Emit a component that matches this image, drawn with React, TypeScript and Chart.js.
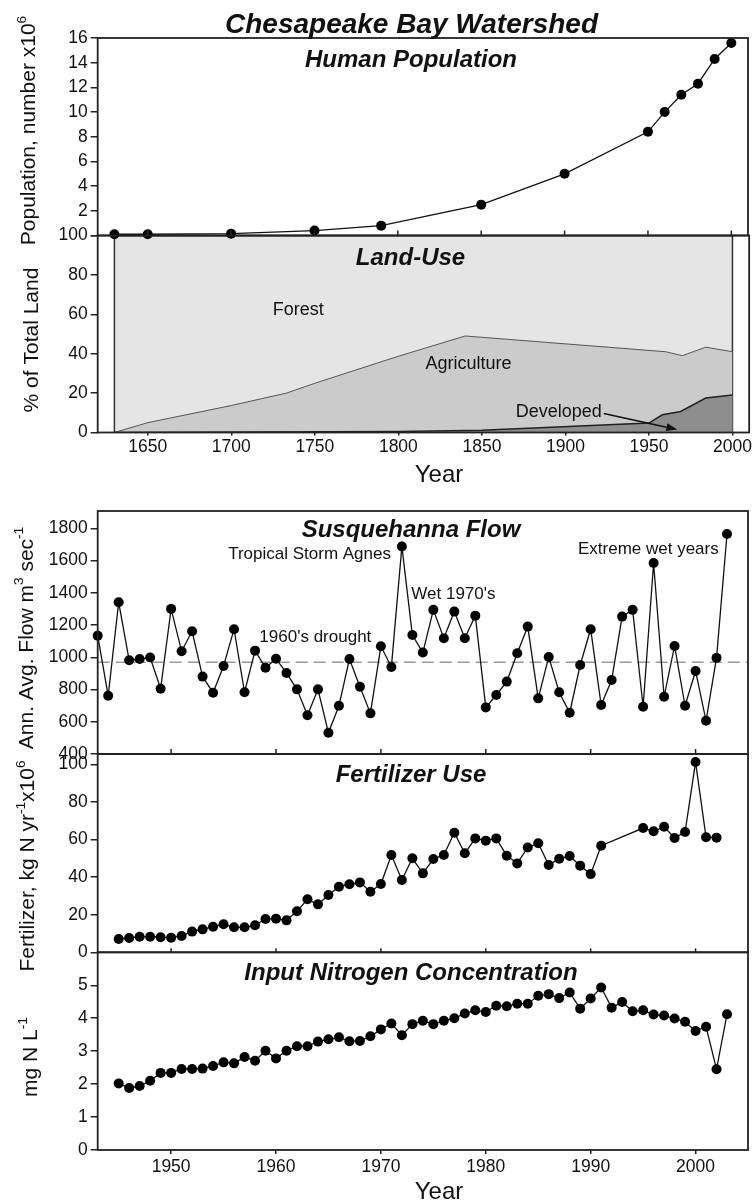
import React, { useEffect, useRef } from 'react';
import { Chart, registerables } from 'chart.js';

Chart.register(...registerables);

const FONT = '"Liberation Sans", Arial, Helvetica, sans-serif';
const W = 753;
const H = 1204;

// ---------- DATA ----------
const popYears = [1630, 1650, 1700, 1750, 1790, 1850, 1900, 1950, 1960, 1970, 1980, 1990, 2000];
const popValues = [0.1, 0.1, 0.15, 0.4, 0.8, 2.5, 5.0, 8.4, 10.0, 11.4, 12.3, 14.3, 15.6];

const forestYears = [1630, 1630, 2000, 2000];
const forestValues = [0, 100, 100, 0];
const agriYears = [1630, 1650, 1700, 1733, 1750, 1800, 1840, 1960, 1970, 1984, 2000];
const agriValues = [0, 5, 13.7, 20, 25, 38.7, 49, 41, 39, 43.3, 41];
const devYears = [1630, 1800, 1850, 1950, 1958, 1969, 1984, 2000];
const devValues = [0, 0.5, 1.2, 4.8, 9, 10.7, 17.5, 19];

const flowYears = [
  1943, 1944, 1945, 1946, 1947, 1948, 1949, 1950, 1951, 1952, 1953, 1954, 1955, 1956, 1957, 1958,
  1959, 1960, 1961, 1962, 1963, 1964, 1965, 1966, 1967, 1968, 1969, 1970, 1971, 1972, 1973, 1974,
  1975, 1976, 1977, 1978, 1979, 1980, 1981, 1982, 1983, 1984, 1985, 1986, 1987, 1988, 1989, 1990,
  1991, 1992, 1993, 1994, 1995, 1996, 1997, 1998, 1999, 2000, 2001, 2002, 2003,
];
const flowValues = [
  1134, 761, 1341, 981, 989, 998, 805, 1300, 1037, 1161, 880, 780, 946, 1174, 783, 1041,
  935, 991, 902, 801, 640, 801, 532, 699, 989, 817, 652, 1068, 940, 1687, 1138, 1029,
  1294, 1118, 1283, 1118, 1258, 689, 766, 849, 1025, 1190, 745, 1002, 783, 656, 952, 1174,
  704, 859, 1252, 1294, 693, 1584, 755, 1070, 699, 915, 606, 996, 1764,
];
const flowMean = 969;

const fertYears = [
  1945, 1946, 1947, 1948, 1949, 1950, 1951, 1952, 1953, 1954, 1955, 1956, 1957, 1958, 1959, 1960,
  1961, 1962, 1963, 1964, 1965, 1966, 1967, 1968, 1969, 1970, 1971, 1972, 1973, 1974, 1975, 1976,
  1977, 1978, 1979, 1980, 1981, 1982, 1983, 1984, 1985, 1986, 1987, 1988, 1989, 1990, 1991,
  1995, 1996, 1997, 1998, 1999, 2000, 2001, 2002,
];
const fertValues = [
  7.1, 7.6, 8.3, 8.3, 8.0, 7.8, 8.7, 11.0, 12.2, 13.6, 14.9, 13.3, 13.3, 14.4, 17.7, 17.9,
  17.0, 21.8, 28.2, 25.5, 30.5, 34.9, 36.2, 37.2, 32.2, 36.3, 51.8, 38.5, 50, 42, 49.6, 51.8,
  63.6, 52.7, 60.6, 59.4, 60.6, 51.4, 47.3, 55.8, 58, 46.4, 49.8, 51.2, 46.1, 41.6, 56.7,
  66.1, 64.4, 66.8, 60.8, 64, 101.2, 61.2, 61,
];

const nitroYears = [
  1945, 1946, 1947, 1948, 1949, 1950, 1951, 1952, 1953, 1954, 1955, 1956, 1957, 1958, 1959, 1960,
  1961, 1962, 1963, 1964, 1965, 1966, 1967, 1968, 1969, 1970, 1971, 1972, 1973, 1974, 1975, 1976,
  1977, 1978, 1979, 1980, 1981, 1982, 1983, 1984, 1985, 1986, 1987, 1988, 1989, 1990, 1991, 1992,
  1993, 1994, 1995, 1996, 1997, 1998, 1999, 2000, 2001, 2002, 2003,
];
const nitroValues = [
  2.02, 1.88, 1.94, 2.10, 2.34, 2.34, 2.46, 2.46, 2.47, 2.55, 2.66, 2.63, 2.82, 2.71, 3.01, 2.78,
  3.01, 3.15, 3.15, 3.29, 3.36, 3.42, 3.30, 3.31, 3.45, 3.66, 3.84, 3.48, 3.82, 3.92, 3.82, 3.92,
  4.00, 4.14, 4.24, 4.19, 4.38, 4.36, 4.44, 4.44, 4.68, 4.73, 4.61, 4.78, 4.29, 4.60, 4.93, 4.32,
  4.49, 4.21, 4.24, 4.11, 4.08, 3.99, 3.89, 3.61, 3.74, 2.45, 4.12,
];

const topYearTicks = [1650, 1700, 1750, 1800, 1850, 1900, 1950, 2000];
const bottomYearTicks = [1950, 1960, 1970, 1980, 1990, 2000];

// ---------- DRAWING HELPERS ----------
type Seg = { t: string; sup?: boolean };
type TextItem = {
  segs: Seg[];
  x: number;
  y: number;
  data?: boolean;
  size: number;
  bold?: boolean;
  italic?: boolean;
  align?: 'left' | 'center' | 'right';
  rot?: boolean;
};

function drawRich(ctx: CanvasRenderingContext2D, it: TextItem, px: number, py: number) {
  const fontFor = (s: number) =>
    `${it.italic ? 'italic ' : ''}${it.bold ? 'bold ' : ''}${s}px ${FONT}`;
  ctx.save();
  ctx.translate(px, py);
  if (it.rot) ctx.rotate(-Math.PI / 2);
  ctx.fillStyle = '#111';
  ctx.textBaseline = 'alphabetic';
  ctx.textAlign = 'left';
  let total = 0;
  const widths = it.segs.map((sg) => {
    ctx.font = fontFor(sg.sup ? it.size * 0.65 : it.size);
    const w = ctx.measureText(sg.t).width;
    total += w;
    return w;
  });
  const align = it.align || 'center';
  let cx = align === 'center' ? -total / 2 : align === 'right' ? -total : 0;
  const base = it.size * 0.36;
  it.segs.forEach((sg, i) => {
    ctx.font = fontFor(sg.sup ? it.size * 0.65 : it.size);
    ctx.fillText(sg.t, cx, sg.sup ? base - it.size * 0.45 : base);
    cx += widths[i];
  });
  ctx.restore();
}

const decorPlugin = {
  id: 'decor',
  afterDraw(chart: any, _args: any, opts: any) {
    const ctx: CanvasRenderingContext2D = chart.ctx;
    const a = chart.chartArea;
    const xs = chart.scales.x;
    const ys = chart.scales.y;
    ctx.save();
    if (opts.innerTicks) {
      ctx.strokeStyle = '#222';
      ctx.lineWidth = 1.5;
      for (const v of opts.innerTicks.values) {
        const px = xs.getPixelForValue(v);
        ctx.beginPath();
        ctx.moveTo(px, a.bottom);
        ctx.lineTo(px, a.bottom - opts.innerTicks.len);
        ctx.stroke();
      }
    }
    if (opts.arrow) {
      const [fx, fy] = opts.arrow.from;
      const [tx, ty] = opts.arrow.to;
      const x1 = xs.getPixelForValue(fx);
      const y1 = ys.getPixelForValue(fy);
      const x2 = xs.getPixelForValue(tx);
      const y2 = ys.getPixelForValue(ty);
      const ang = Math.atan2(y2 - y1, x2 - x1);
      const hl = 11;
      const hw = 4;
      ctx.strokeStyle = '#111';
      ctx.fillStyle = '#111';
      ctx.lineWidth = 1.6;
      ctx.beginPath();
      ctx.moveTo(x1, y1);
      ctx.lineTo(x2 - hl * Math.cos(ang), y2 - hl * Math.sin(ang));
      ctx.stroke();
      ctx.beginPath();
      ctx.moveTo(x2, y2);
      ctx.lineTo(
        x2 - hl * Math.cos(ang) + hw * Math.sin(ang),
        y2 - hl * Math.sin(ang) - hw * Math.cos(ang)
      );
      ctx.lineTo(
        x2 - hl * Math.cos(ang) - hw * Math.sin(ang),
        y2 - hl * Math.sin(ang) + hw * Math.cos(ang)
      );
      ctx.closePath();
      ctx.fill();
    }
    if (opts.frame) {
      ctx.strokeStyle = '#222';
      ctx.lineWidth = 1.8;
      ctx.strokeRect(a.left, a.top, a.right - a.left, a.bottom - a.top);
    }
    for (const it of (opts.texts || []) as TextItem[]) {
      const px = it.data ? xs.getPixelForValue(it.x) : it.x;
      const py = it.data ? ys.getPixelForValue(it.y) : it.y;
      drawRich(ctx, it, px, py);
    }
    ctx.restore();
  },
};

const pts = (xs: number[], ys: number[]) => xs.map((x, i) => ({ x, y: ys[i] }));

const lineDs = (xs: number[], ys: number[]) => ({
  data: pts(xs, ys),
  borderColor: '#111',
  borderWidth: 1.3,
  pointRadius: 5,
  pointHoverRadius: 5,
  pointBackgroundColor: '#000',
  pointBorderColor: '#000',
  pointBorderWidth: 0,
  tension: 0,
  fill: false,
  clip: false as any,
});

const CHART_LEFT = 97.7;
const CHART_RIGHT = 750;
const XAXIS_H = 30;

type PanelSpec = {
  top: number;
  bottom: number;
  xMin: number;
  xMax: number;
  xStep: number;
  xLabels: boolean;
  xTickLen?: number;
  xPad?: number;
  yMin: number;
  yMax: number;
  yStep: number;
  yMaxTick?: number;
  hideZero?: boolean;
};

function makeConfig(p: PanelSpec, datasets: any[], decor: any): any {
  const tickFont = { family: FONT, size: 17.5 };
  const xScale: any = {
    type: 'linear',
    min: p.xMin,
    max: p.xMax,
    display: p.xLabels,
    border: { display: false },
    grid: {
      drawOnChartArea: false,
      drawTicks: true,
      tickLength: p.xTickLen ?? 4,
      color: '#222',
      lineWidth: 1.5,
    },
    ticks: {
      stepSize: p.xStep,
      includeBounds: false,
      autoSkip: false,
      maxRotation: 0,
      padding: p.xPad ?? 2,
      color: '#111',
      font: tickFont,
      callback: (v: any) => String(v),
    },
  };
  if (p.xLabels) {
    xScale.afterFit = (s: any) => {
      s.height = XAXIS_H;
    };
  }
  return {
    type: 'line',
    data: { datasets },
    options: {
      animation: false,
      responsive: true,
      maintainAspectRatio: false,
      events: [],
      layout: {
        padding: {
          left: 0,
          right: W - CHART_RIGHT,
          top: p.top,
          bottom: H - p.bottom - (p.xLabels ? XAXIS_H : 0),
        },
      },
      plugins: {
        legend: { display: false },
        tooltip: { enabled: false },
        title: { display: false },
        decor,
      },
      scales: {
        x: xScale,
        y: {
          type: 'linear',
          min: p.yMin,
          max: p.yMax,
          afterFit: (s: any) => {
            s.width = CHART_LEFT;
          },
          afterBuildTicks: (s: any) => {
            if (p.yMaxTick !== undefined) s.ticks = s.ticks.filter((t: any) => t.value <= p.yMaxTick!);
          },
          border: { display: false },
          grid: {
            drawOnChartArea: false,
            drawTicks: true,
            tickLength: 7,
            color: '#222',
            lineWidth: 1.5,
          },
          ticks: {
            stepSize: p.yStep,
            includeBounds: false,
            autoSkip: false,
            padding: 3,
            color: '#111',
            font: tickFont,
            callback: (v: any) => (p.hideZero && v === 0 ? '' : String(v)),
          },
        },
      },
    },
    plugins: [decorPlugin],
  };
}

const TITLE = 24;
const ANN = 17;
const AXT = 21;

function buildConfigs(): any[] {
  const pop = makeConfig(
    { top: 38, bottom: 235.5, xMin: 1620, xMax: 2010, xStep: 50, xLabels: false, yMin: 0, yMax: 16, yStep: 2, hideZero: true },
    [lineDs(popYears, popValues)],
    {
      frame: true,
      innerTicks: { values: topYearTicks, len: 5 },
      texts: [
        { segs: [{ t: 'Chesapeake Bay Watershed' }], x: 411.5, y: 22.5, size: 28, bold: true, italic: true },
        { segs: [{ t: 'Human Population' }], x: 411, y: 58.5, size: TITLE, bold: true, italic: true },
        { segs: [{ t: 'Population, number x10' }, { t: '6', sup: true }], x: 27.5, y: 130.5, size: AXT, rot: true },
      ],
    }
  );

  const land = makeConfig(
    { top: 235.5, bottom: 432.5, xMin: 1620, xMax: 2010, xStep: 50, xLabels: true, xTickLen: 3, xPad: 1, yMin: 0, yMax: 100, yStep: 20 },
    [
      {
        data: pts(devYears, devValues),
        borderColor: '#222',
        borderWidth: 1.5,
        backgroundColor: '#8e8e8e',
        fill: 'origin',
        pointRadius: 0,
        tension: 0,
      },
      {
        data: pts(agriYears, agriValues),
        borderColor: '#555',
        borderWidth: 1,
        backgroundColor: '#cbcbcb',
        fill: 'origin',
        pointRadius: 0,
        tension: 0,
      },
      {
        data: pts(forestYears, forestValues),
        borderColor: '#333',
        borderWidth: 1.5,
        backgroundColor: '#e5e5e5',
        fill: 'origin',
        pointRadius: 0,
        tension: 0,
      },
    ],
    {
      frame: true,
      arrow: { from: [1923, 9.6], to: [1967, 1.5] },
      texts: [
        { segs: [{ t: 'Land-Use' }], x: 410.5, y: 256, size: TITLE, bold: true, italic: true },
        { segs: [{ t: 'Forest' }], x: 1740, y: 63, data: true, size: 18 },
        { segs: [{ t: 'Agriculture' }], x: 1842, y: 35.4, data: true, size: 18 },
        { segs: [{ t: 'Developed' }], x: 1896, y: 11.1, data: true, size: 18 },
        { segs: [{ t: '% of Total Land' }], x: 30.8, y: 340, size: AXT, rot: true },
        { segs: [{ t: 'Year' }], x: 439, y: 473.3, size: 24 },
      ],
    }
  );

  const flow = makeConfig(
    { top: 511, bottom: 754, xMin: 1943, xMax: 2005, xStep: 10, xLabels: false, yMin: 400, yMax: 1907, yStep: 200 },
    [
      lineDs(flowYears, flowValues),
      {
        data: [
          { x: 1943, y: flowMean },
          { x: 2005, y: flowMean },
        ],
        borderColor: '#9a9a9a',
        borderWidth: 1.6,
        borderDash: [12, 6],
        pointRadius: 0,
        fill: false,
      },
    ],
    {
      frame: true,
      innerTicks: { values: bottomYearTicks, len: 5 },
      texts: [
        { segs: [{ t: 'Susquehanna Flow' }], x: 411, y: 528.3, size: TITLE, bold: true, italic: true },
        { segs: [{ t: 'Tropical Storm Agnes' }], x: 1963.2, y: 1650, data: true, size: ANN },
        { segs: [{ t: "Wet 1970's" }], x: 1972.9, y: 1402, data: true, size: ANN, align: 'left' },
        { segs: [{ t: 'Extreme wet years' }], x: 1995.5, y: 1679, data: true, size: ANN },
        { segs: [{ t: "1960's drought" }], x: 1963.75, y: 1132, data: true, size: ANN },
        {
          segs: [{ t: 'Ann. Avg. Flow m' }, { t: '3', sup: true }, { t: ' sec' }, { t: '-1', sup: true }],
          x: 25.3,
          y: 638,
          size: AXT,
          rot: true,
        },
      ],
    }
  );

  const fert = makeConfig(
    { top: 754, bottom: 952.3, xMin: 1943, xMax: 2005, xStep: 10, xLabels: false, yMin: 0, yMax: 105.5, yStep: 20 },
    [lineDs(fertYears, fertValues)],
    {
      frame: true,
      innerTicks: { values: bottomYearTicks, len: 4 },
      texts: [
        { segs: [{ t: 'Fertilizer Use' }], x: 411, y: 773.3, size: TITLE, bold: true, italic: true },
        {
          segs: [{ t: 'Fertilizer, kg N yr' }, { t: '-1', sup: true }, { t: 'x10' }, { t: '6', sup: true }],
          x: 26.7,
          y: 866,
          size: AXT,
          rot: true,
        },
      ],
    }
  );

  const nitro = makeConfig(
    { top: 952.3, bottom: 1150, xMin: 1943, xMax: 2005, xStep: 10, xLabels: true, xTickLen: 4, xPad: 3, yMin: 0, yMax: 6, yStep: 1, yMaxTick: 5 },
    [lineDs(nitroYears, nitroValues)],
    {
      frame: true,
      texts: [
        { segs: [{ t: 'Input Nitrogen Concentration' }], x: 411, y: 971.5, size: TITLE, bold: true, italic: true },
        { segs: [{ t: 'mg N L' }, { t: '-1', sup: true }], x: 29, y: 1057, size: AXT, rot: true },
        { segs: [{ t: 'Year' }], x: 439, y: 1190.5, size: 24 },
      ],
    }
  );

  return [land, pop, flow, fert, nitro];
}

function ChartLayer({ config }: { config: any }) {
  const ref = useRef<HTMLCanvasElement>(null);
  useEffect(() => {
    if (!ref.current) return;
    const chart = new Chart(ref.current, config);
    return () => chart.destroy();
  }, [config]);
  return (
    <div style={{ position: 'absolute', left: 0, top: 0, width: W, height: H }}>
      <canvas ref={ref} />
    </div>
  );
}

const CONFIGS = buildConfigs();

export default function App() {
  return (
    <div
      style={{
        position: 'fixed',
        left: 0,
        top: 0,
        width: W,
        height: H,
        background: '#fff',
        overflow: 'hidden',
      }}
    >
      {CONFIGS.map((c, i) => (
        <ChartLayer key={i} config={c} />
      ))}
    </div>
  );
}
